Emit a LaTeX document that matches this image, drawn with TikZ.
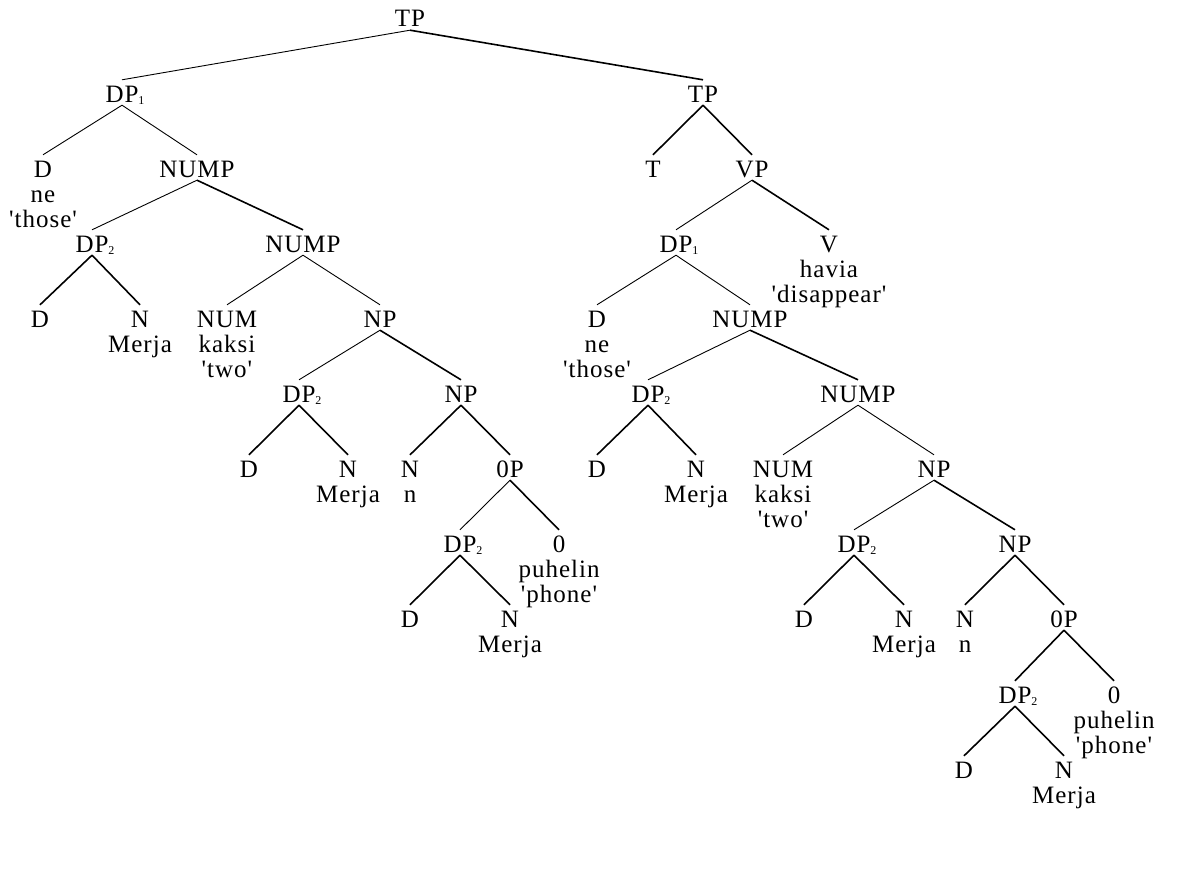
\documentclass[tikz,border=0pt]{standalone}
\usepackage{fontspec}
\setmainfont[Ligatures=TeXOff, LetterSpace=4]{Liberation Serif}
\newcommand\subidx[1]{\rlap{\raisebox{-2pt}{\fontsize{12}{12}\selectfont #1}}}
\tikzset{
  cat/.style={anchor=base, text height=19pt, text depth=0pt, inner xsep=0pt, inner ysep=3pt},
  word/.style={anchor=base, inner sep=0pt},
  light/.style={line width=0.9pt},
  heavy/.style={line width=1.6pt},
}
\begin{document}
\begin{tikzpicture}[x=1pt, y=-1pt, font=\fontsize{25}{25}\selectfont]
\useasboundingbox (0,0) rectangle (1193,870);
\fill[white] (0,0) rectangle (1193,870);

% root
\node[cat] (t0) at (410,27) {TP};

% left conjunct: DP1
\node[cat] (a1) at (122,102) {DP\subidx{1}};
\node[cat] (a2) at (43,177) {D};
\node[word] (a2w1) at (43,202) {ne};
\node[word] (a2w2) at (43,227) {'those'};
\node[cat] (a3) at (197,177) {NUMP};
\node[cat] (a4) at (92,252) {DP\subidx{2}};
\node[cat] (a5) at (303,252) {NUMP};
\node[cat] (a6) at (40,327) {D};
\node[cat] (a7) at (140,327) {N};
\node[word] (a7w) at (140,352) {Merja};
\node[cat] (a8) at (227,327) {NUM};
\node[word] (a8w1) at (227,352) {kaksi};
\node[word] (a8w2) at (227,377) {'two'};
\node[cat] (a9) at (380,327) {NP};
\node[cat] (a10) at (299,402) {DP\subidx{2}};
\node[cat] (a11) at (461,402) {NP};
\node[cat] (a12) at (249,477) {D};
\node[cat] (a13) at (348,477) {N};
\node[word] (a13w) at (348,502) {Merja};
\node[cat] (a14) at (410,477) {N};
\node[word] (a14w) at (410,502) {n};
\node[cat] (a15) at (510,477) {0P};
\node[cat] (a16) at (460,552) {DP\subidx{2}};
\node[cat] (a17) at (559,552) {0};
\node[word] (a17w1) at (559,577) {puhelin};
\node[word] (a17w2) at (559,602) {'phone'};
\node[cat] (a18) at (410,627) {D};
\node[cat] (a19) at (510,627) {N};
\node[word] (a19w) at (510,652) {Merja};

% right conjunct: TP
\node[cat] (b0) at (703,102) {TP};
\node[cat] (b1) at (653,177) {T};
\node[cat] (b2) at (752,177) {VP};
\node[cat] (b3) at (676,252) {DP\subidx{1}};
\node[cat] (b4) at (829,252) {V};
\node[word] (b4w1) at (829,277) {havia};
\node[word] (b4w2) at (829,302) {'disappear'};
\node[cat] (b5) at (597,327) {D};
\node[word] (b5w1) at (597,352) {ne};
\node[word] (b5w2) at (597,377) {'those'};
\node[cat] (b6) at (750,327) {NUMP};
\node[cat] (b7) at (648,402) {DP\subidx{2}};
\node[cat] (b8) at (858,402) {NUMP};
\node[cat] (b9) at (597,477) {D};
\node[cat] (b10) at (696,477) {N};
\node[word] (b10w) at (696,502) {Merja};
\node[cat] (b11) at (783,477) {NUM};
\node[word] (b11w1) at (783,502) {kaksi};
\node[word] (b11w2) at (783,527) {'two'};
\node[cat] (b12) at (934,477) {NP};
\node[cat] (b13) at (854,552) {DP\subidx{2}};
\node[cat] (b14) at (1015,552) {NP};
\node[cat] (b15) at (804,627) {D};
\node[cat] (b16) at (904,627) {N};
\node[word] (b16w) at (904,652) {Merja};
\node[cat] (b17) at (965,627) {N};
\node[word] (b17w) at (965,652) {n};
\node[cat] (b18) at (1064,627) {0P};
\node[cat] (b19) at (1015,703) {DP\subidx{2}};
\node[cat] (b20) at (1114,703) {0};
\node[word] (b20w1) at (1114,728) {puhelin};
\node[word] (b20w2) at (1114,753) {'phone'};
\node[cat] (b21) at (964,778) {D};
\node[cat] (b22) at (1064,778) {N};
\node[word] (b22w) at (1064,803) {Merja};

% branches
\draw[light] (t0.south) -- (a1.north);
\draw[heavy] (t0.south) -- (b0.north);

\draw[light] (a1.south) -- (a2.north);
\draw[light] (a1.south) -- (a3.north);
\draw[light] (a3.south) -- (a4.north);
\draw[heavy] (a3.south) -- (a5.north);
\draw[heavy] (a4.south) -- (a6.north);
\draw[heavy] (a4.south) -- (a7.north);
\draw[light] (a5.south) -- (a8.north);
\draw[light] (a5.south) -- (a9.north);
\draw[light] (a9.south) -- (a10.north);
\draw[heavy] (a9.south) -- (a11.north);
\draw[heavy] (a10.south) -- (a12.north);
\draw[heavy] (a10.south) -- (a13.north);
\draw[heavy] (a11.south) -- (a14.north);
\draw[heavy] (a11.south) -- (a15.north);
\draw[light] (a15.south) -- (a16.north);
\draw[heavy] (a15.south) -- (a17.north);
\draw[heavy] (a16.south) -- (a18.north);
\draw[heavy] (a16.south) -- (a19.north);

\draw[heavy] (b0.south) -- (b1.north);
\draw[heavy] (b0.south) -- (b2.north);
\draw[light] (b2.south) -- (b3.north);
\draw[heavy] (b2.south) -- (b4.north);
\draw[light] (b3.south) -- (b5.north);
\draw[light] (b3.south) -- (b6.north);
\draw[light] (b6.south) -- (b7.north);
\draw[heavy] (b6.south) -- (b8.north);
\draw[heavy] (b7.south) -- (b9.north);
\draw[heavy] (b7.south) -- (b10.north);
\draw[light] (b8.south) -- (b11.north);
\draw[light] (b8.south) -- (b12.north);
\draw[light] (b12.south) -- (b13.north);
\draw[heavy] (b12.south) -- (b14.north);
\draw[heavy] (b13.south) -- (b15.north);
\draw[heavy] (b13.south) -- (b16.north);
\draw[heavy] (b14.south) -- (b17.north);
\draw[heavy] (b14.south) -- (b18.north);
\draw[heavy] (b18.south) -- (b19.north);
\draw[heavy] (b18.south) -- (b20.north);
\draw[heavy] (b19.south) -- (b21.north);
\draw[heavy] (b19.south) -- (b22.north);
\end{tikzpicture}
\end{document}
